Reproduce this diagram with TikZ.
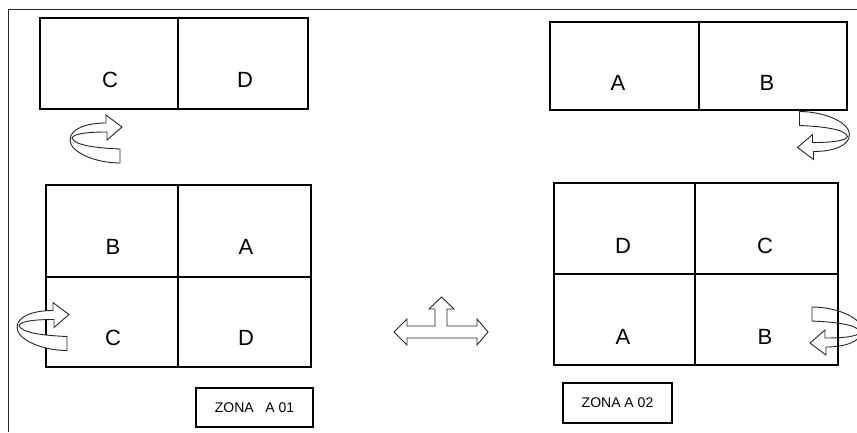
\documentclass[tikz,border=0pt]{standalone}
\usepackage{fontspec}
\setmainfont{Liberation Sans}
\begin{document}
\begin{tikzpicture}[x=1pt,y=-1pt,
  cell/.style={draw=black,line width=1.3pt,rectangle,inner sep=0pt,outer sep=0pt},
  lbl/.style={font=\fontsize{22}{24}\selectfont,inner sep=0pt},
  zone/.style={draw=black,line width=1.3pt,rectangle,inner sep=0pt,font=\fontsize{14}{16}\selectfont},
  frame/.style={draw=black!85,line width=1pt},
  fig/.style={draw=black!85,line width=0.9pt,fill=white,line join=miter},
  pics/turn/.style={code={
    \path[fig] (24,10) .. controls (-1,9) and (-22,6) .. (-24,-1)
      .. controls (-22,-6) and (-5,-7) .. (11,-7) -- (11,1) -- (26,-12) -- (10,-24) -- (10,-16)
      .. controls (-8,-16) and (-26,-11) .. (-26,1)
      .. controls (-26,13) and (-1,24) .. (24,24) -- cycle;
  }}]
\useasboundingbox (0,0) rectangle (857,432);
% outer frame
\coordinate (f1) at (8,432);
\coordinate (f2) at (8,9);
\coordinate (f3) at (858,9);
\draw[frame] (f1) -- (f2) -- (f3);
% turning arrow behind the bottom-right block
\pic[rotate=180] (t4) at (836,331) {turn};
% top-left pair
\node[cell,minimum width=138pt,minimum height=91pt] (tlc) at (109,63.5) {};
\node[cell,minimum width=130pt,minimum height=91pt] (tld) at (243,63.5) {};
\node[lbl] (tlcl) at (110,80) {C};
\node[lbl] (tldl) at (245,80) {D};
% top-right pair
\node[cell,minimum width=149pt,minimum height=88pt] (tra) at (624.5,66) {};
\node[cell,minimum width=148pt,minimum height=88pt] (trb) at (773,66) {};
\node[lbl] (tral) at (618,83) {A};
\node[lbl] (trbl) at (767,83) {B};
% bottom-left block
\node[cell,minimum width=132pt,minimum height=92pt] (blb) at (112,231) {};
\node[cell,minimum width=133pt,minimum height=92pt] (bla) at (244.5,231) {};
\node[cell,minimum width=132pt,minimum height=90pt] (blc) at (112,322) {};
\node[cell,minimum width=133pt,minimum height=90pt] (bld) at (244.5,322) {};
\node[lbl] (blbl) at (113,247) {B};
\node[lbl] (blal) at (246,247) {A};
\node[lbl] (blcl) at (113,338) {C};
\node[lbl] (bldl) at (246,338) {D};
% bottom-right block
\node[cell,minimum width=141pt,minimum height=91pt] (brd) at (624.5,228.5) {};
\node[cell,minimum width=143pt,minimum height=91pt] (brc) at (766.5,228.5) {};
\node[cell,minimum width=141pt,minimum height=91pt] (bra) at (624.5,319.5) {};
\node[cell,minimum width=143pt,minimum height=91pt] (brb) at (766.5,319.5) {};
\node[lbl] (brdl) at (623,246) {D};
\node[lbl] (brcl) at (765,246) {C};
\node[lbl] (bral) at (623,337) {A};
\node[lbl] (brbl) at (765,337) {B};
% zone labels
\node[zone,minimum width=117pt,minimum height=39pt] (z1) at (254.5,407.5) {ZONA\ \ \ A 01};
\node[zone,minimum width=109pt,minimum height=40pt] (z2) at (617.5,403) {ZONA A 02};
% turning arrows
\pic (t1) at (96,139) {turn};
\pic (t2) at (43,326.5) {turn};
\pic[rotate=180] (t3) at (823.5,135.5) {turn};
% central three-way arrow
\path[fig] (394,332) -- (407,319) -- (407,326) -- (435,326) -- (435,309) -- (429,309)
  -- (441.5,297) -- (454,309) -- (447,309) -- (447,326) -- (477,326) -- (477,319)
  -- (488,332) -- (477,345) -- (477,338) -- (407,338) -- (407,345) -- cycle;
\end{tikzpicture}
\end{document}
